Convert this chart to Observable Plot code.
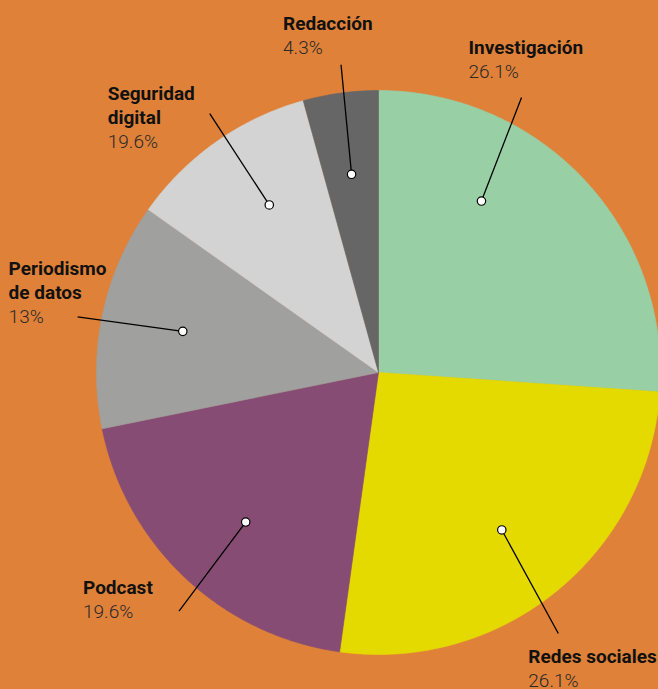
<!DOCTYPE html>
<html><head><meta charset="utf-8">
<script src="https://cdn.jsdelivr.net/npm/d3@7"></script>
<script src="https://cdn.jsdelivr.net/npm/@observablehq/plot@0.6"></script>
<style>
html,body{margin:0;padding:0;background:#DF8138;}
#chart{width:658px;height:689px;overflow:hidden;}
</style></head><body><div id="chart"></div>
<script>
// ---- data ----
const categories = ["Investigación","Redes sociales","Podcast","Periodismo de datos","Seguridad digital","Redacción"];
const values = [26.1, 26.1, 19.6, 13, 10.9, 4.3];
const valueLabels = ["26.1%","26.1%","19.6%","13%","19.6%","4.3%"];
const nameLabels = ["Investigación","Redes sociales","Podcast","Periodismo\nde datos","Seguridad\ndigital","Redacción"];
const colors = ["#98CFA5","#E5DA00","#874C74","#A0A09E","#D3D3D3","#666666"];

// ---- layout ----
const W = 658, H = 689, CX = 378, CY = 372, R = 282;
const k = 1 / R;
const layout = {
  "Investigación":       {dot: -16, end: -19.5, r: 310, tx: -53, ty: -43},
  "Redes sociales":      {dot: 1,   end: 4.5,   r: 317, tx: -30, ty: 29},
  "Podcast":             {dot: -1.6,end: -3.3,  r: 311, tx: -96, ty: -17},
  "Periodismo de datos": {dot: 0,   end: -1.4,  r: 306, tx: -69, ty: -18},
  "Seguridad digital":   {dot: 2,   end: 2,     r: 309, tx: -102,ty: 10},
  "Redacción":           {dot: 0,   end: 0.8,   r: 310, tx: -58, ty: -35}
};

const arcs = d3.pie().sort(null).value(d => d.value)(
  categories.map((c, i) => ({c, value: values[i], name: nameLabels[i], pct: valueLabels[i]}))
);

const slicePts = [];
arcs.forEach(p => {
  const c = p.data.c;
  slicePts.push({c, x: 0, y: 0});
  const n = Math.max(2, Math.ceil((p.endAngle - p.startAngle) / (Math.PI / 360)));
  for (let j = 0; j <= n; j++) {
    const a = p.startAngle + (p.endAngle - p.startAngle) * j / n;
    slicePts.push({c, x: Math.sin(a), y: Math.cos(a)});
  }
  slicePts.push({c, x: 0, y: 0});
});

const rad = d => d * Math.PI / 180;
const labels = arcs.map(p => {
  const L = layout[p.data.c];
  const mid = (p.startAngle + p.endAngle) / 2;
  const ad = mid + rad(L.dot), ae = mid + rad(L.end);
  const dr = 200 * k, er = L.r * k;
  const dx = dr * Math.sin(ad), dy = dr * Math.cos(ad);
  const ex = er * Math.sin(ae), ey = er * Math.cos(ae);
  const nLines = p.data.name.split("\n").length;
  return {
    c: p.data.c, name: p.data.name, pct: p.data.pct,
    dx, dy, ex, ey,
    tx: ex + L.tx * k,
    tyName: ey - L.ty * k,
    tyPct: ey - (L.ty + 24) * k
  };
});

const chart = Plot.plot({
  width: W, height: H, margin: 0,
  style: {background: "transparent", overflow: "hidden"},
  x: {domain: [-CX / R, (W - CX) / R], axis: null},
  y: {domain: [(CY - H) / R, CY / R], axis: null},
  color: {domain: categories, range: colors},
  marks: [
    Plot.line(slicePts, {x: "x", y: "y", z: "c", fill: "c", stroke: "c", strokeWidth: 0.6, curve: "linear"}),
    Plot.link(labels, {x1: "dx", y1: "dy", x2: "ex", y2: "ey", stroke: "#000", strokeWidth: 1.3}),
    Plot.dot(labels, {x: "dx", y: "dy", r: 4.2, fill: "#fff", stroke: "#000", strokeWidth: 1.2}),
    Plot.text(labels, {x: "tx", y: "tyName", text: "name", textAnchor: "start", lineAnchor: "bottom",
      lineHeight: 24 / 19, fontSize: 19, fontWeight: "bold", fontFamily: "Roboto", fill: "#111"}),
    Plot.text(labels, {x: "tx", y: "tyPct", text: "pct", textAnchor: "start", lineAnchor: "bottom",
      fontSize: 19, fontWeight: 300, fontFamily: "Roboto", fill: "#2a2a2a"})
  ]
});
document.getElementById("chart").appendChild(chart);
</script></body></html>
